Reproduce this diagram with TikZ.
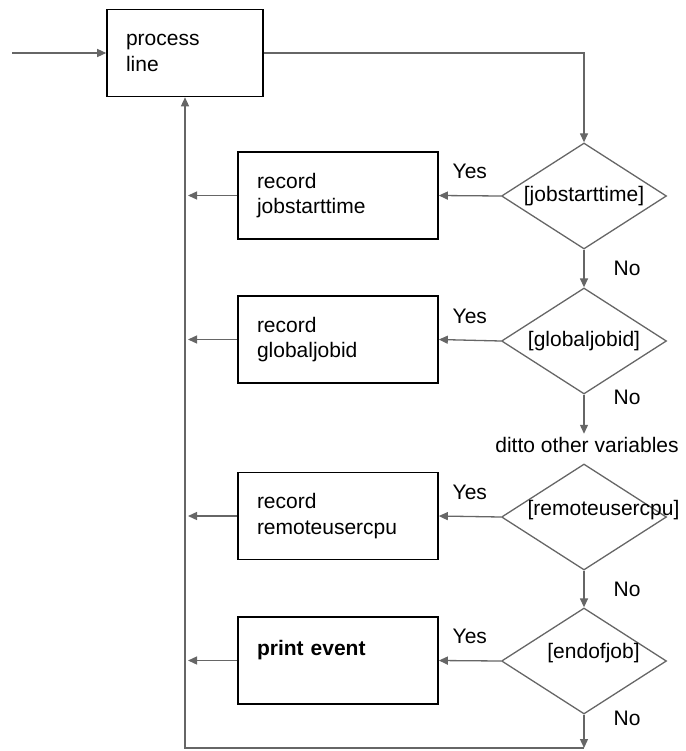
\documentclass[tikz,border=0pt]{standalone}
\usepackage{fontspec}
\setmainfont{Liberation Sans}
\usepackage{tikz}
\usetikzlibrary{arrows.meta, shapes.geometric}

\definecolor{linegray}{HTML}{666666}

\tikzset{
	procbox/.style={draw=black, line width=1.6pt, minimum height=87pt, text width=162pt, inner xsep=19pt, align=left},
	decbox/.style={diamond, draw=linegray, line width=1.3pt, minimum width=165pt, minimum height=106pt, inner sep=0pt},
	flow/.style={draw=linegray, line width=1.3pt, -{Triangle[length=9pt,width=8pt]}},
	yes/.style={midway, yshift=24pt},
	no/.style={xshift=43pt},
	every node/.style={font=\fontsize{21}{25.5}\selectfont}
}

\begin{document}
\begin{tikzpicture}[x=1pt, y=-1pt]
		\useasboundingbox (0,0) rectangle (685,751);
		
		% boxes
		\node[procbox, text width=118pt] (pl) at (185,53) {process\\line};
		\node[procbox] (b1) at (338,195.5) {record\\jobstarttime};
		\node[procbox] (b2) at (338,339.5) {record\\globaljobid};
		\node[procbox] (b3) at (338,516) {record\\remoteusercpu};
		\node[procbox] (b4) at (338,660.5) {\textbf{print event}\\\mbox{}};
		
		% decisions
		\node[decbox, label={center:[jobstarttime]}] (d1) at (584,196) {};
		\node[decbox, label={center:[globaljobid]}] (d2) at (584,341) {};
		\node[decbox, label={[xshift=19.5pt, yshift=7pt]center:[remoteusercpu]}] (d3) at (584,517) {};
		\node[decbox, label={[xshift=9.5pt, yshift=8pt]center:[endofjob]}] (d4) at (584,661) {};
		\node (ditto) at (587,445) {ditto other variables};
		
		\coordinate (in) at (12,53);
		\coordinate (end) at (584,748);
		
		% flow
		\draw[flow] (in) -- (pl.west);
		\draw[flow] (pl.east) -| (d1.north);
		\draw[flow] (d1.south) -- node[no]{No} (d2.north);
		\draw[flow] (d2.south) -- node[no, pos=0.08]{No} (d2.south |- ditto.north);
		\draw[flow] (d3.south) -- node[no]{No} (d4.north);
		\draw[flow] (d4.south) -- node[no, pos=0.1]{No} (end);
		
		\draw[flow] (d1.west) -- node[yes]{Yes} (b1.east);
		\draw[flow] (d2.west) -- node[yes]{Yes} (b2.east);
		\draw[flow] (d3.west) -- node[yes]{Yes} (b3.east);
		\draw[flow] (d4.west) -- node[yes]{Yes} (b4.east);
		
		% back to process line
		\foreach \b in {b1,b2,b3,b4}
		\draw[flow, shorten >=3pt] (\b.west) -- (\b.west -| pl.south);
		\draw[flow] (end) -| (pl.south);
\end{tikzpicture}
\end{document}
